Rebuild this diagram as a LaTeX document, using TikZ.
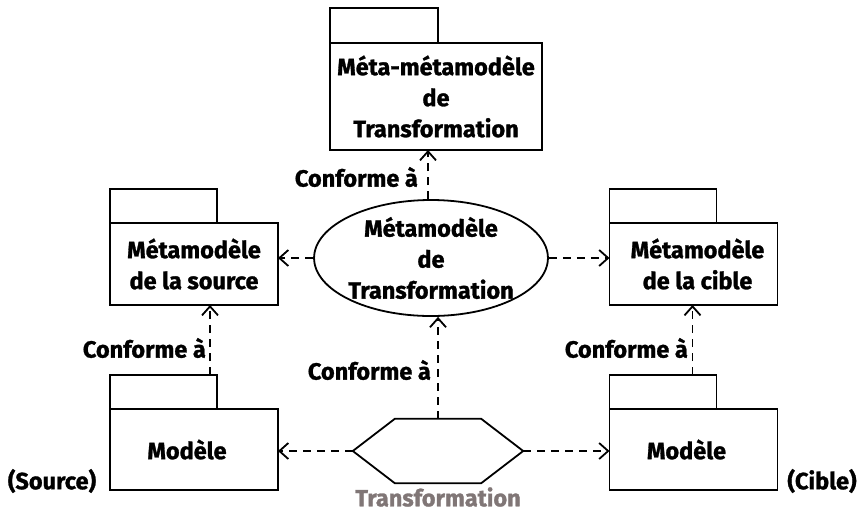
\documentclass[tikz,border=0pt]{standalone}
\usepackage{fontspec}
\setmainfont{Fira Sans}[BoldFeatures={FakeBold=1.2}]
\usetikzlibrary{arrows.meta,shapes.geometric,calc}
\definecolor{taupe}{RGB}{128,118,118}
\tikzset{
  lw/.style={line width=1.8pt},
  pkg/.style={draw, lw, align=center, inner sep=0pt, outer sep=0pt},
  pkgtab/.style={draw, lw, anchor=south west, minimum width=107pt, minimum height=34pt, inner sep=0pt, outer sep=0pt},
  dep/.style={lw, dash pattern=on 8pt off 6pt,
    -{Straight Barb[length=9pt,width=16pt,line width=1.8pt]}},
  lbl/.style={inner sep=0pt},
}
\begin{document}
\begin{tikzpicture}[x=1pt,y=-1pt,
  every node/.style={font=\fontsize{23.5}{31}\selectfont\bfseries}]
\useasboundingbox (0,0) rectangle (858,512);
% packages
\node[pkg, minimum width=212pt, minimum height=107pt] (mmm) at (436,96.5) {Méta-métamodèle\\de\\Transformation};
\node[pkgtab, minimum width=108pt, minimum height=35pt] (mmmtab) at (mmm.north west) {};
\node[pkg, minimum width=168pt, minimum height=82pt] (mms) at (194,264) {Métamodèle\\de la source};
\node[pkgtab] (mmstab) at (mms.north west) {};
\node[pkg, minimum width=168pt, minimum height=82pt] (mmc) at (693.5,264) {\hspace*{8pt}Métamodèle\\\hspace*{8pt}de la cible};
\node[pkgtab] (mmctab) at (mmc.north west) {};
\node[pkg, minimum width=168pt, minimum height=81pt] (ms) at (194,449.5) {Modèle\hspace*{14pt}};
\node[pkgtab] (mstab) at (ms.north west) {};
\node[pkg, minimum width=168pt, minimum height=81pt] (mc) at (693.5,449.5) {Modèle\hspace*{14pt}};
\node[pkgtab] (mctab) at (mc.north west) {};
% ellipse
\node[draw, lw, ellipse, minimum width=216pt, minimum height=114pt, inner sep=0pt, align=center] (ell) at (431,258) {Métamodèle\\de\\Transformation};
% hexagon
\node[minimum width=170pt, minimum height=64pt, inner sep=0pt] (hex) at (438,451) {};
\draw[lw] (hex.west) -- ([xshift=42pt]hex.north west) -- ([xshift=-42pt]hex.north east)
  -- (hex.east) -- ([xshift=-42pt]hex.south east) -- ([xshift=42pt]hex.south west) -- cycle;
\node[lbl, text=taupe] (tlabel) at (438,497) {Transformation};
% connectors
\coordinate (t1) at ([xshift=-3pt]ell.north);
\draw[dep] (t1) -- (t1 |- mmm.south);
\draw[dep] (ell.west) -- (ell.west -| mms.east);
\draw[dep] (ell.east) -- (ell.east -| mmc.west);
\draw[dep] (hex.north) -- (hex.north |- ell.south);
\draw[dep] (hex.west) -- (hex.west -| ms.east);
\draw[dep] (hex.east) -- (hex.east -| mc.west);
\coordinate (s1) at ([xshift=46.5pt]mstab.north);
\draw[dep] (s1) -- (s1 |- mms.south);
\coordinate (c1) at ([xshift=29.5pt]mctab.north);
\draw[dep] (c1) -- (c1 |- mmc.south);
% labels
\node[lbl, anchor=east] (l1) at (418,177) {Conforme à};
\node[lbl, anchor=east] (l2) at (206,348) {Conforme à};
\node[lbl, anchor=east] (l3) at (431,370) {Conforme à};
\node[lbl, anchor=east] (l4) at (688,348) {Conforme à};
\node[lbl] (src) at (52,481) {(Source)};
\node[lbl] (cib) at (822,481) {(Cible)};
\end{tikzpicture}
\end{document}
